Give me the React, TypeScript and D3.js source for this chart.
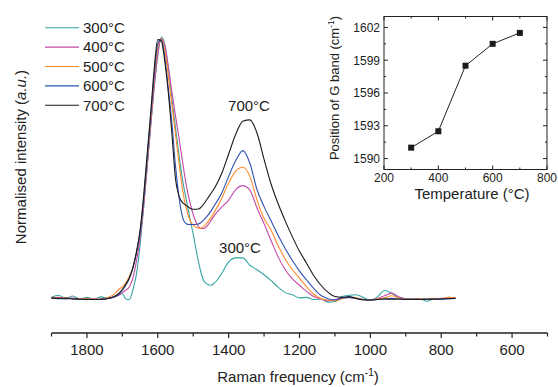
import React from "react";
import * as d3 from "d3";

const wavenumbers = [1900,1880,1860,1840,1820,1800,1780,1760,1740,
  1720,1710,1700,1690,1680,1670,1660,1650,1640,1630,1620,1610,1600,1590,1580,1570,1560,1550,1540,1530,1520,1510,1500,1490,1480,1470,1460,1450,1440,
  1420,1400,1380,1360,1340,1320,1300,1280,1260,1240,1220,1200,1180,1160,1140,1120,1100,1080,1060,1040,1020,1000,980,960,940,920,900,880,860,840,820,800,780,760];

const s300 = [0.01,0.018,0.006,0.015,0.004,0.01,0.004,0.012,0.006,
  0.012,0.022,0.024,0.004,0.002,0.04,0.10,0.21,0.35,0.51,0.66,0.81,0.93,1.0,0.97,0.88,0.765,0.655,0.55,0.456,0.385,0.315,0.25,0.178,0.115,0.072,0.06,0.056,0.065,
  0.1,0.145,0.16,0.16,0.132,0.115,0.096,0.074,0.048,0.028,0.02,0.008,0.01,0.002,0.004,-0.008,-0.006,0.013,0.018,0.02,0.01,0.0,0.012,0.036,0.026,0.01,0.006,0.003,0.004,-0.005,0.004,0.003,0.01,0.006];

const s400 = [0.008,0.01,0.006,0.007,0.005,0.004,0.005,0.003,0.007,
  0.012,0.018,0.028,0.038,0.05,0.085,0.15,0.235,0.355,0.505,0.665,0.815,0.935,0.995,0.965,0.885,0.79,0.70,0.615,0.525,0.44,0.375,0.325,0.29,0.273,0.272,0.283,0.302,0.322,
  0.352,0.38,0.42,0.435,0.418,0.35,0.29,0.225,0.163,0.115,0.08,0.056,0.033,0.013,0.004,-0.003,0.002,0.008,0.01,0.006,0.002,0.0,0.006,0.016,0.026,0.012,0.004,0.003,0.005,0.003,0.004,0.006,0.008,0.009];

const s500 = [0.01,0.006,0.008,0.005,0.004,0.006,0.003,0.004,0.01,
  0.025,0.04,0.05,0.065,0.09,0.125,0.18,0.255,0.375,0.525,0.685,0.84,0.96,0.995,0.945,0.85,0.74,0.63,0.52,0.42,0.35,0.305,0.285,0.276,0.273,0.28,0.295,0.313,0.335,
  0.385,0.445,0.49,0.505,0.47,0.38,0.31,0.265,0.205,0.155,0.115,0.083,0.05,0.022,0.006,0.0,-0.004,0.005,0.01,0.008,0.003,0.0,0.004,0.008,0.016,0.008,0.003,0.004,0.005,0.003,0.006,0.005,0.01,0.008];

const s600 = [0.006,0.005,0.004,0.005,0.003,0.003,0.002,0.003,0.006,
  0.014,0.022,0.037,0.057,0.083,0.122,0.18,0.255,0.38,0.535,0.70,0.855,0.975,0.99,0.92,0.80,0.67,0.51,0.39,0.315,0.29,0.287,0.287,0.288,0.293,0.305,0.32,0.338,0.36,
  0.405,0.47,0.53,0.568,0.52,0.42,0.355,0.30,0.245,0.195,0.15,0.11,0.076,0.044,0.018,0.005,0.0,0.008,0.01,0.006,0.002,0.0,0.002,0.004,0.006,0.004,0.002,0.003,0.003,0.002,0.004,0.003,0.005,0.006];

const s700 = [0.008,0.006,0.007,0.004,0.003,0.002,0.002,0.003,0.006,
  0.015,0.025,0.04,0.06,0.085,0.125,0.185,0.265,0.395,0.555,0.71,0.88,0.99,0.985,0.905,0.785,0.63,0.46,0.395,0.37,0.36,0.35,0.345,0.345,0.35,0.365,0.385,0.405,0.425,
  0.48,0.555,0.63,0.68,0.685,0.635,0.535,0.44,0.365,0.30,0.24,0.185,0.14,0.093,0.057,0.03,0.013,0.01,0.013,0.006,0.0,0.0,0.002,0.004,0.003,0.004,0.002,0.003,0.002,0.004,0.003,0.004,0.005,0.006];

const seriesLabels = ["300°C", "400°C", "500°C", "600°C", "700°C"];
const seriesColors = ["#35a3a3", "#c24aa8", "#ff8a2a", "#2f52b0", "#1a1a1a"];
const seriesData = [s300, s400, s500, s600, s700];

const xMajorTicks = [1800, 1600, 1400, 1200, 1000, 800, 600];
const xMinorTicks = [1900, 1700, 1500, 1300, 1100, 900, 700, 500];

const insetTemps = [300, 400, 500, 600, 700];
const insetGBand = [1591.0, 1592.5, 1598.5, 1600.5, 1601.5];
const insetXTicks = [200, 400, 600, 800];
const insetXMinor = [300, 500, 700];
const insetYTicks = [1590, 1593, 1596, 1599, 1602];
const insetYMinor = [1591.5, 1594.5, 1597.5, 1600.5];

const FONT = "'Liberation Sans', Arial, Helvetica, sans-serif";
const TEXT = "#222";

export default function App() {
  const W = 558, H = 387;
  const x = d3.scaleLinear().domain([1900, 500]).range([51.5, 547.5]);
  const y = d3.scaleLinear().domain([0, 1]).range([300, 37]);
  const line = d3.line<number>()
    .x((_, i) => x(wavenumbers[i]))
    .y((d) => y(d))
    .curve(d3.curveMonotoneX);

  const axisY = 333;

  const ix = d3.scaleLinear().domain([200, 800]).range([384, 547]);
  const iy = d3.scaleLinear().domain([1589, 1603]).range([169.5, 16.5]);
  const iline = d3.line<number>().x((_, i) => ix(insetTemps[i])).y((d) => iy(d));
  const [ix0, ix1] = ix.range();
  const [iy0, iy1] = iy.range();

  return (
    <svg width={W} height={H} style={{ position: "absolute", left: 0, top: 0, background: "#fff" }} fontFamily={FONT}>
      {/* spectra */}
      {seriesData.map((s, k) => (
        <path key={k} d={line(s) || ""} fill="none" stroke={seriesColors[k]} strokeWidth={1.1} />
      ))}

      {/* annotations */}
      <text x={249} y={111} fontSize={15} fill={TEXT} textAnchor="middle">700°C</text>
      <text x={240} y={253} fontSize={15} fill={TEXT} textAnchor="middle">300°C</text>

      {/* legend */}
      {seriesLabels.map((lab, k) => {
        const cy = 27.7 + k * 19.4;
        return (
          <g key={lab}>
            <line x1={45} x2={79} y1={cy} y2={cy} stroke={seriesColors[k]} strokeWidth={1.1} />
            <text x={83} y={cy + 5.3} fontSize={15} fill={TEXT}>{lab}</text>
          </g>
        );
      })}

      {/* x axis */}
      <line x1={x(1900)} x2={x(500)} y1={axisY} y2={axisY} stroke="#222" strokeWidth={1.3} />
      {xMajorTicks.map((t) => (
        <g key={t}>
          <line x1={x(t)} x2={x(t)} y1={axisY} y2={axisY + 5} stroke="#222" strokeWidth={1.2} />
          <text x={x(t)} y={355} fontSize={15} fill={TEXT} textAnchor="middle">{t}</text>
        </g>
      ))}
      {xMinorTicks.map((t) => (
        <line key={t} x1={x(t)} x2={x(t)} y1={axisY} y2={axisY + 3.5} stroke="#222" strokeWidth={1.2} />
      ))}
      <text x={298} y={382} fontSize={15} fill={TEXT} textAnchor="middle">
        Raman frequency (cm<tspan dy={-6} fontSize={10}>-1</tspan><tspan dy={6}>)</tspan>
      </text>
      <text transform="translate(26,157) rotate(-90)" fontSize={15} fill={TEXT} textAnchor="middle">
        Normalised intensity (<tspan fontStyle="italic">a.u.</tspan>)
      </text>

      {/* inset */}
      <rect x={ix0} y={iy1} width={ix1 - ix0} height={iy0 - iy1} fill="none" stroke="#222" strokeWidth={1} />
      {insetXTicks.map((t) => (
        <g key={t}>
          <line x1={ix(t)} x2={ix(t)} y1={iy0} y2={iy0 - 4} stroke="#222" />
          <line x1={ix(t)} x2={ix(t)} y1={iy1} y2={iy1 + 4} stroke="#222" />
          <text x={ix(t)} y={181.5} fontSize={12} fill={TEXT} textAnchor="middle">{t}</text>
        </g>
      ))}
      {insetXMinor.map((t) => (
        <g key={t}>
          <line x1={ix(t)} x2={ix(t)} y1={iy0} y2={iy0 - 2} stroke="#222" />
          <line x1={ix(t)} x2={ix(t)} y1={iy1} y2={iy1 + 2} stroke="#222" />
        </g>
      ))}
      {insetYTicks.map((t) => (
        <g key={t}>
          <line x1={ix0} x2={ix0 + 4} y1={iy(t)} y2={iy(t)} stroke="#222" />
          <line x1={ix1} x2={ix1 - 4} y1={iy(t)} y2={iy(t)} stroke="#222" />
          <text x={380} y={iy(t) + 4.3} fontSize={12} fill={TEXT} textAnchor="end">{t}</text>
        </g>
      ))}
      {insetYMinor.map((t) => (
        <g key={t}>
          <line x1={ix0} x2={ix0 + 2} y1={iy(t)} y2={iy(t)} stroke="#222" />
          <line x1={ix1} x2={ix1 - 2} y1={iy(t)} y2={iy(t)} stroke="#222" />
        </g>
      ))}
      <path d={iline(insetGBand) || ""} fill="none" stroke="#222" strokeWidth={1} />
      {insetGBand.map((v, i) => (
        <rect key={i} x={ix(insetTemps[i]) - 3} y={iy(v) - 3} width={6} height={6} fill="#1a1a1a" />
      ))}
      <text x={472} y={199} fontSize={15} fill={TEXT} textAnchor="middle">Temperature (°C)</text>
      <text transform="translate(339,88) rotate(-90)" fontSize={13} fill={TEXT} textAnchor="middle">
        Position of G band (cm<tspan dy={-5} fontSize={8.5}>-1</tspan><tspan dy={5}>)</tspan>
      </text>
    </svg>
  );
}
